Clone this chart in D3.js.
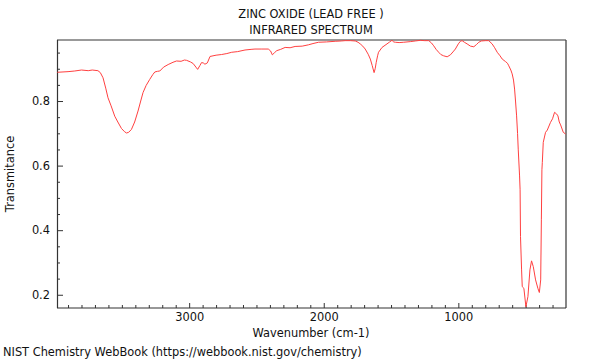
<!DOCTYPE html>
<html>
<head>
<meta charset="utf-8">
<script src="https://cdn.jsdelivr.net/npm/d3@7/dist/d3.min.js"></script>
<style>
  html, body { margin: 0; padding: 0; background: #fff; }
  svg { display: block; font-family: "DejaVu Sans", sans-serif; }
</style>
</head>
<body>
<svg id="chart" width="600" height="360"></svg>
<script>
const titleLines = ["ZINC OXIDE (LEAD FREE )", "INFRARED SPECTRUM"];
const xLabel = "Wavenumber (cm-1)";
const yLabel = "Transmitance";
const footer = "NIST Chemistry WebBook (https://webbook.nist.gov/chemistry)";

const xDomain = [3982, 200];
const yDomain = [0.159, 0.989];
const xMajorTicks = [3000, 2000, 1000];
const yMajorTicks = [0.2, 0.4, 0.6, 0.8];

const wavenumber = [
  3980, 3900, 3850, 3800, 3750, 3720, 3678, 3660, 3640, 3620, 3603, 3580, 3553, 3530, 3503, 3480,
  3466, 3450, 3429, 3405, 3380, 3360, 3343, 3320, 3293, 3270, 3255, 3235, 3218, 3190, 3156, 3120,
  3094, 3060, 3035, 3019, 2990, 2970, 2950, 2937, 2920, 2908, 2895, 2883, 2865, 2845, 2800, 2759,
  2720, 2684, 2640, 2585, 2540, 2511, 2460, 2412, 2395, 2382, 2365, 2349, 2320, 2287, 2250, 2213,
  2160, 2114, 2080, 2039, 1980, 1915, 1870, 1841, 1800, 1766, 1745, 1729, 1710, 1692, 1670, 1654,
  1640, 1626, 1618, 1610, 1600, 1593, 1567, 1530, 1510, 1493, 1480, 1468, 1440, 1406, 1357, 1320,
  1282, 1250, 1220, 1200, 1183, 1165, 1146, 1130, 1109, 1083, 1059, 1040, 1022, 1000, 985, 972,
  955, 935, 910, 885, 865, 848, 830, 798, 774, 749, 730, 711, 690, 674, 649, 635,
  625, 610, 600, 590, 582, 575, 567, 560, 555, 545, 541, 538, 530, 525, 513, 505,
  498, 483, 468, 456, 443, 426, 409, 398, 388, 383, 379, 376, 369, 352, 339, 315,
  300, 285, 270, 260, 250, 240, 220, 203
];
const transmittance = [
  0.889, 0.891, 0.893, 0.896, 0.894, 0.896, 0.894, 0.888, 0.872, 0.840, 0.810, 0.785, 0.753, 0.735, 0.715, 0.705,
  0.701, 0.703, 0.712, 0.735, 0.769, 0.800, 0.826, 0.848, 0.867, 0.882, 0.890, 0.892, 0.893, 0.905, 0.913, 0.920,
  0.924, 0.923, 0.927, 0.926, 0.921, 0.916, 0.905, 0.898, 0.910, 0.919, 0.918, 0.914, 0.918, 0.938, 0.942, 0.944,
  0.947, 0.951, 0.953, 0.958, 0.960, 0.961, 0.961, 0.961, 0.955, 0.943, 0.950, 0.956, 0.960, 0.966, 0.965, 0.969,
  0.970, 0.974, 0.978, 0.982, 0.983, 0.985, 0.986, 0.987, 0.987, 0.986, 0.982, 0.977, 0.970, 0.961, 0.945, 0.930,
  0.910, 0.888, 0.900, 0.920, 0.940, 0.951, 0.966, 0.977, 0.983, 0.988, 0.983, 0.982, 0.981, 0.982, 0.984, 0.986,
  0.988, 0.987, 0.987, 0.980, 0.971, 0.960, 0.951, 0.944, 0.940, 0.937, 0.943, 0.952, 0.961, 0.977, 0.985, 0.987,
  0.982, 0.977, 0.970, 0.968, 0.975, 0.982, 0.986, 0.987, 0.987, 0.977, 0.965, 0.951, 0.940, 0.930, 0.922, 0.917,
  0.909, 0.896, 0.884, 0.865, 0.837, 0.800, 0.754, 0.700, 0.651, 0.568, 0.525, 0.380, 0.277, 0.225, 0.220, 0.190,
  0.163, 0.194, 0.277, 0.305, 0.287, 0.246, 0.220, 0.207, 0.246, 0.432, 0.587, 0.610, 0.672, 0.703, 0.710, 0.734,
  0.745, 0.765, 0.760, 0.754, 0.735, 0.726, 0.703, 0.698
];

const data = wavenumber.map((w, i) => ({ w: w, t: transmittance[i] }));

const svg = d3.select("#chart");
const m = { left: 57, right: 566, top: 40, bottom: 308 };
const fs = 11.4;

const x = d3.scaleLinear().domain(xDomain).range([m.left, m.right]);
const y = d3.scaleLinear().domain(yDomain).range([m.bottom, m.top]);

const axisColor = "#333";

// X axis (ticks inward)
const xMinor = d3.range(300, 4000, 100).filter(v => !xMajorTicks.includes(v) && v <= xDomain[0]);
svg.append("g")
  .attr("transform", `translate(0,${m.bottom})`)
  .call(d3.axisBottom(x).tickValues(xMinor).tickSize(-3).tickFormat(""))
  .call(g => g.select(".domain").remove())
  .call(g => g.selectAll("line").attr("stroke", axisColor));
const gx = svg.append("g")
  .attr("transform", `translate(0,${m.bottom})`)
  .call(d3.axisBottom(x).tickValues(xMajorTicks).tickSize(-5).tickPadding(5).tickFormat(d3.format("d")))
  .call(g => g.select(".domain").remove());
gx.selectAll("line").attr("stroke", axisColor);
gx.selectAll("text").attr("font-size", fs).attr("fill", "#111").attr("font-family", "DejaVu Sans, sans-serif");

// Y axis
const yMinor = d3.range(0.2, 0.96, 0.05).map(v => +v.toFixed(2)).filter(v => !yMajorTicks.includes(v));
svg.append("g")
  .attr("transform", `translate(${m.left},0)`)
  .call(d3.axisLeft(y).tickValues(yMinor).tickSize(-3).tickFormat(""))
  .call(g => g.select(".domain").remove())
  .call(g => g.selectAll("line").attr("stroke", axisColor));
const gy = svg.append("g")
  .attr("transform", `translate(${m.left},0)`)
  .call(d3.axisLeft(y).tickValues(yMajorTicks).tickSize(-6).tickPadding(7).tickFormat(d3.format(".1f")))
  .call(g => g.select(".domain").remove());
gy.selectAll("line").attr("stroke", axisColor);
gy.selectAll("text").attr("font-size", fs).attr("fill", "#111").attr("font-family", "DejaVu Sans, sans-serif");

// Frame
svg.append("line").attr("x1", m.left).attr("x2", m.right).attr("y1", m.top).attr("y2", m.top)
  .attr("stroke", "#999").attr("stroke-width", 2);
svg.append("line").attr("x1", m.left + 0.5).attr("x2", m.left + 0.5).attr("y1", m.top).attr("y2", m.bottom)
  .attr("stroke", axisColor).attr("stroke-width", 1.2);
svg.append("line").attr("x1", m.right).attr("x2", m.right).attr("y1", m.top).attr("y2", m.bottom)
  .attr("stroke", "#444").attr("stroke-width", 1.3);
svg.append("line").attr("x1", m.left).attr("x2", m.right).attr("y1", m.bottom).attr("y2", m.bottom)
  .attr("stroke", axisColor).attr("stroke-width", 1.2);

// Spectrum
svg.append("path")
  .datum(data)
  .attr("fill", "none")
  .attr("stroke", "#ff4040")
  .attr("stroke-width", 1)
  .attr("d", d3.line().x(d => x(d.w)).y(d => y(d.t)));

// Titles
svg.selectAll(".title").data(titleLines).enter().append("text")
  .attr("x", 311).attr("y", (d, i) => 18 + i * 16)
  .attr("text-anchor", "middle").attr("font-size", fs).attr("fill", "#111")
  .text(d => d);

svg.append("text").attr("x", 311).attr("y", 337).attr("text-anchor", "middle")
  .attr("font-size", fs).attr("fill", "#111").text(xLabel);

svg.append("text").attr("transform", `translate(14,${(m.top + m.bottom) / 2}) rotate(-90)`)
  .attr("text-anchor", "middle").attr("font-size", fs).attr("fill", "#111").text(yLabel);

svg.append("text").attr("x", 3).attr("y", 356).attr("font-size", fs).attr("fill", "#111").text(footer);
</script>
</body>
</html>
